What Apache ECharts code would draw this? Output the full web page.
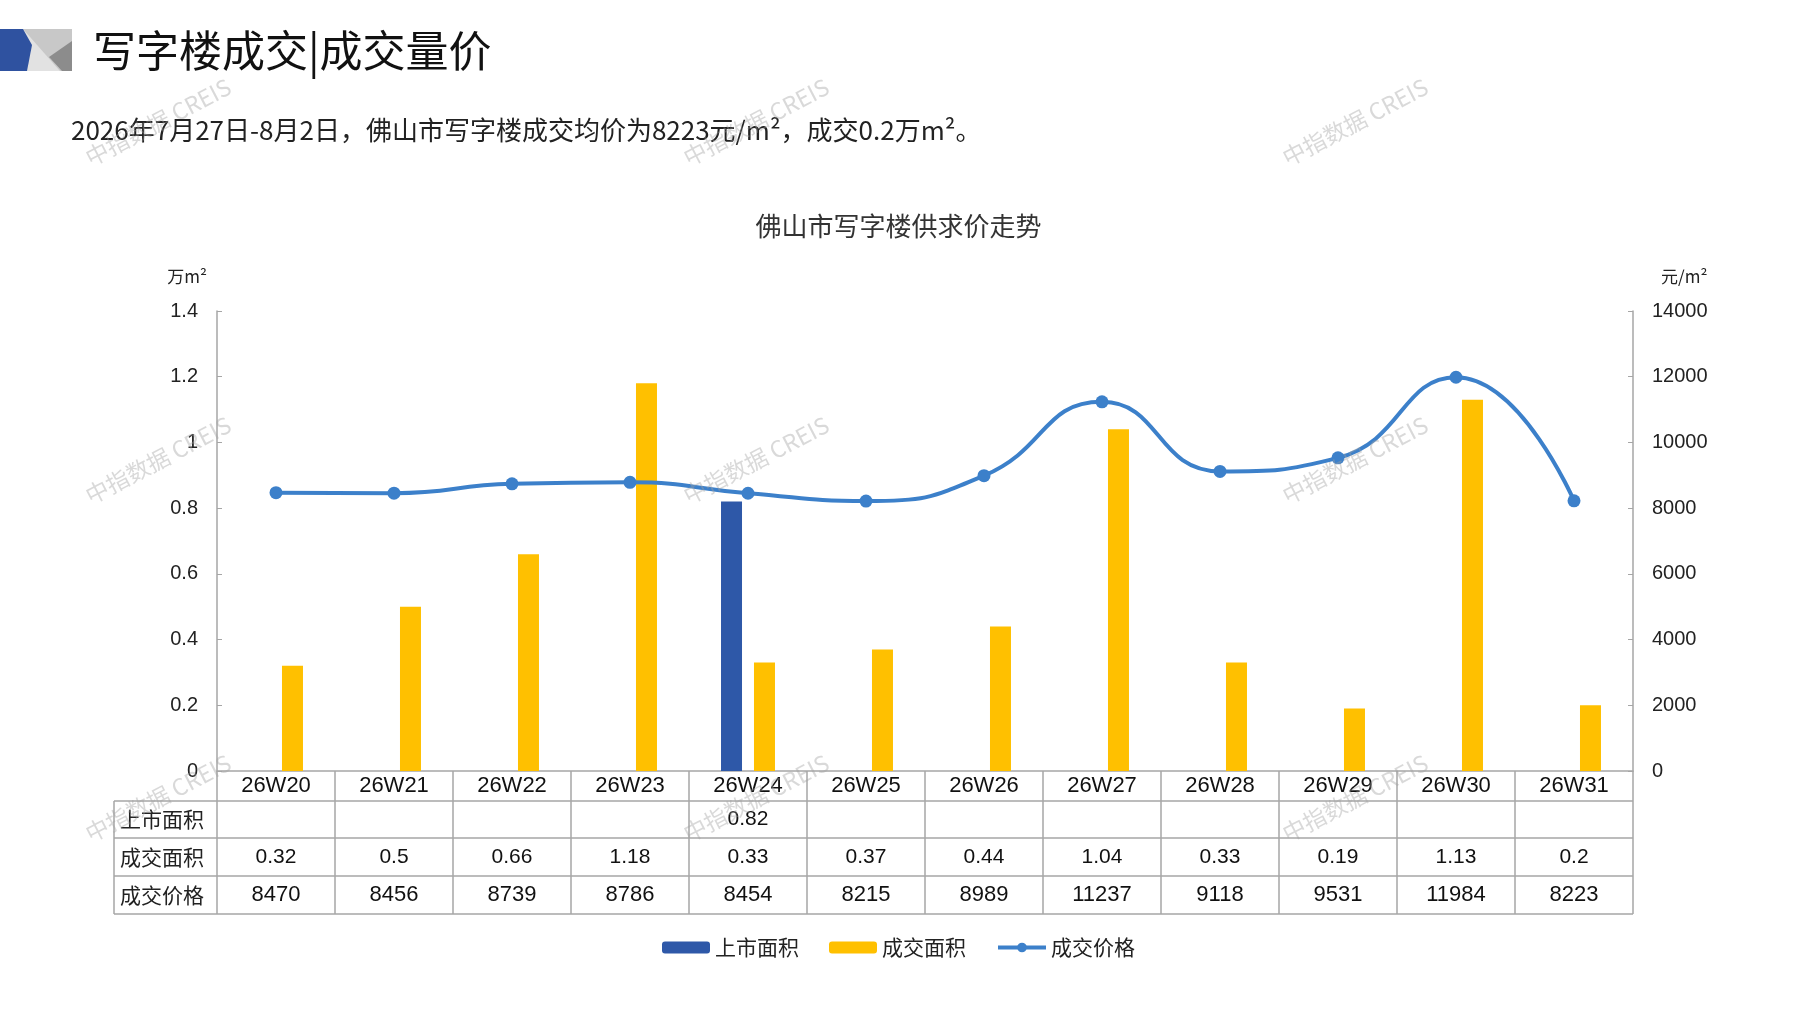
<!DOCTYPE html>
<html>
<head>
<meta charset="utf-8">
<title>佛山市写字楼供求价走势</title>
<script src="https://cdn.jsdelivr.net/npm/echarts@6/dist/echarts.min.js"></script>
<style>
  html, body { margin: 0; padding: 0; background: #fff; }
  #main { width: 1797px; height: 1010px; }
</style>
</head>
<body>
<div id="main"></div>
<script>
// 周次
var weeks = ['26W20', '26W21', '26W22', '26W23', '26W24', '26W25', '26W26', '26W27', '26W28', '26W29', '26W30', '26W31'];
// 上市面积（万m²）
var listArea = [null, null, null, null, 0.82, null, null, null, null, null, null, null];
// 成交面积（万m²）
var dealArea = [0.32, 0.5, 0.66, 1.18, 0.33, 0.37, 0.44, 1.04, 0.33, 0.19, 1.13, 0.2];
// 成交价格（元/m²）
var dealPrice = [8470, 8456, 8739, 8786, 8454, 8215, 8989, 11237, 9118, 9531, 11984, 8223];
// 表格左侧行名
var rowNames = ['上市面积', '成交面积', '成交价格'];

var CJK = '"Noto Sans CJK SC", sans-serif';
var NUM = '"Liberation Sans", Arial, sans-serif';
var NARROW = '"Liberation Sans Narrow", "Liberation Sans", sans-serif';

// 版面
var gridLeft = 217, gridRight = 1633, gridTop = 311, gridBottom = 771;
var rowH = [30, 37, 38, 38];
var tableLeft = 114;
var lineColor = '#a6a6a6';

function rowTop(k) {
    var y = gridBottom;
    for (var i = 0; i < k; i++) y += rowH[i];
    return y;
}

var graphics = [];

// 左上角图标
graphics.push({ type: 'rect', shape: { x: 23, y: 29, width: 49, height: 42 }, style: { fill: '#c8c8c8' } });
graphics.push({ type: 'polygon', shape: { points: [[23, 29], [60, 71], [25, 71]] }, style: { fill: '#e2e2e2' } });
graphics.push({ type: 'polygon', shape: { points: [[72, 41], [72, 71], [62, 71], [49, 57]] }, style: { fill: '#8c8c8c' } });
graphics.push({ type: 'polygon', shape: { points: [[0, 29], [23, 29], [32, 45], [27, 71], [0, 71]] }, style: { fill: '#2f52a0' } });

// 表格横线
for (var r = 1; r <= 4; r++) {
    graphics.push({
        type: 'line', silent: true,
        shape: { x1: tableLeft, y1: rowTop(r), x2: gridRight, y2: rowTop(r) },
        style: { stroke: lineColor, lineWidth: 1.5 }
    });
}
// 表格左边框
graphics.push({
    type: 'line', silent: true,
    shape: { x1: tableLeft, y1: rowTop(1), x2: tableLeft, y2: rowTop(4) },
    style: { stroke: lineColor, lineWidth: 1.5 }
});
// 行名
rowNames.forEach(function (name, i) {
    graphics.push({
        type: 'text',
        x: tableLeft + 6,
        y: rowTop(i + 1) + rowH[i + 1] / 2,
        style: { text: name, fill: '#222', font: '21px ' + CJK, verticalAlign: 'middle', textAlign: 'left' }
    });
});

// 水印
[158, 756, 1355].forEach(function (wx) {
    [122, 460, 798].forEach(function (wy) {
        graphics.push({
            type: 'text', silent: true, z: 100,
            x: wx, y: wy, rotation: 0.48,
            style: {
                text: '中指数据 CREIS', fill: 'rgba(160,160,160,0.4)',
                font: '23px ' + CJK, textAlign: 'center', verticalAlign: 'middle'
            }
        });
    });
});

var chart = echarts.init(document.getElementById('main'));

var option = {
    animation: false,
    backgroundColor: '#fff',
    title: [
        {
            text: '写字楼成交|成交量价',
            left: 88, top: 24,
            textStyle: { fontFamily: CJK, fontSize: 43, fontWeight: 'normal', color: '#111' }
        },
        {
            text: '2026年7月27日-8月2日，佛山市写字楼成交均价为8223元/m²，成交0.2万m²。',
            left: 66, top: 112,
            textStyle: { fontFamily: CJK, fontSize: 26, fontWeight: 'normal', color: '#222' }
        },
        {
            text: '佛山市写字楼供求价走势',
            left: 'center', top: 208,
            textStyle: { fontFamily: CJK, fontSize: 26, fontWeight: 'normal', color: '#333' }
        }
    ],
    legend: {
        top: 932,
        left: 'center',
        itemWidth: 48,
        itemHeight: 12,
        itemGap: 30,
        lineStyle: { width: 4 },
        textStyle: { fontFamily: CJK, fontSize: 21, color: '#222' },
        data: ['上市面积', '成交面积', '成交价格']
    },
    grid: {
        left: gridLeft,
        right: 1797 - gridRight,
        top: gridTop,
        bottom: 1010 - gridBottom
    },
    xAxis: {
        type: 'category',
        data: weeks,
        axisLine: { lineStyle: { color: lineColor, width: 1.5 } },
        axisTick: { show: true, inside: false, length: rowTop(4) - gridBottom, lineStyle: { color: lineColor, width: 1.5 } },
        axisLabel: {
            interval: 0,
            margin: 0,
            color: '#111',
            formatter: function (v, i) {
                var l = listArea[i] == null ? ' ' : listArea[i];
                return '{c|' + v + '}\n{l|' + l + '}\n{a|' + dealArea[i] + '}\n{p|' + dealPrice[i] + '}';
            },
            rich: {
                c: { fontFamily: NARROW, fontSize: 22, lineHeight: rowH[0], color: '#111' },
                l: { fontFamily: NUM, fontSize: 21, lineHeight: rowH[1], color: '#111' },
                a: { fontFamily: NUM, fontSize: 21, lineHeight: rowH[2], color: '#111' },
                p: { fontFamily: NARROW, fontSize: 22, lineHeight: rowH[3], color: '#111' }
            }
        }
    },
    yAxis: [
        {
            type: 'value',
            min: 0, max: 1.4, interval: 0.2,
            name: '万m²',
            nameLocation: 'end',
            nameGap: 26,
            nameTextStyle: { fontFamily: CJK, fontSize: 17, color: '#222', align: 'right', padding: [0, 10, 0, 0] },
            axisLine: { show: true, lineStyle: { color: lineColor, width: 1.5 } },
            axisTick: { show: true, inside: true, length: 5, lineStyle: { color: lineColor } },
            splitLine: { show: false },
            axisLabel: { margin: 19, fontFamily: NUM, fontSize: 20, color: '#222' }
        },
        {
            type: 'value',
            min: 0, max: 14000, interval: 2000,
            name: '元/m²',
            nameLocation: 'end',
            nameGap: 26,
            nameTextStyle: { fontFamily: CJK, fontSize: 17, color: '#222', align: 'left', padding: [0, 0, 0, 28] },
            axisLine: { show: true, lineStyle: { color: lineColor, width: 1.5 } },
            axisTick: { show: true, inside: true, length: 5, lineStyle: { color: lineColor } },
            splitLine: { show: false },
            axisLabel: {
                margin: 19, fontFamily: NUM, fontSize: 20, color: '#222',
                formatter: function (v) { return String(v); }
            }
        }
    ],
    series: [
        {
            name: '上市面积',
            type: 'bar',
            barWidth: 21,
            barGap: '57%',
            itemStyle: { color: '#2e58a8' },
            data: listArea
        },
        {
            name: '成交面积',
            type: 'bar',
            barWidth: 21,
            itemStyle: { color: '#ffc000' },
            data: dealArea
        },
        {
            name: '成交价格',
            type: 'line',
            yAxisIndex: 1,
            smooth: true,
            symbol: 'circle',
            symbolSize: 13,
            itemStyle: { color: '#3c80ca' },
            lineStyle: { width: 4, color: '#3c80ca' },
            data: dealPrice
        }
    ],
    graphic: graphics
};

chart.setOption(option);
</script>
</body>
</html>
